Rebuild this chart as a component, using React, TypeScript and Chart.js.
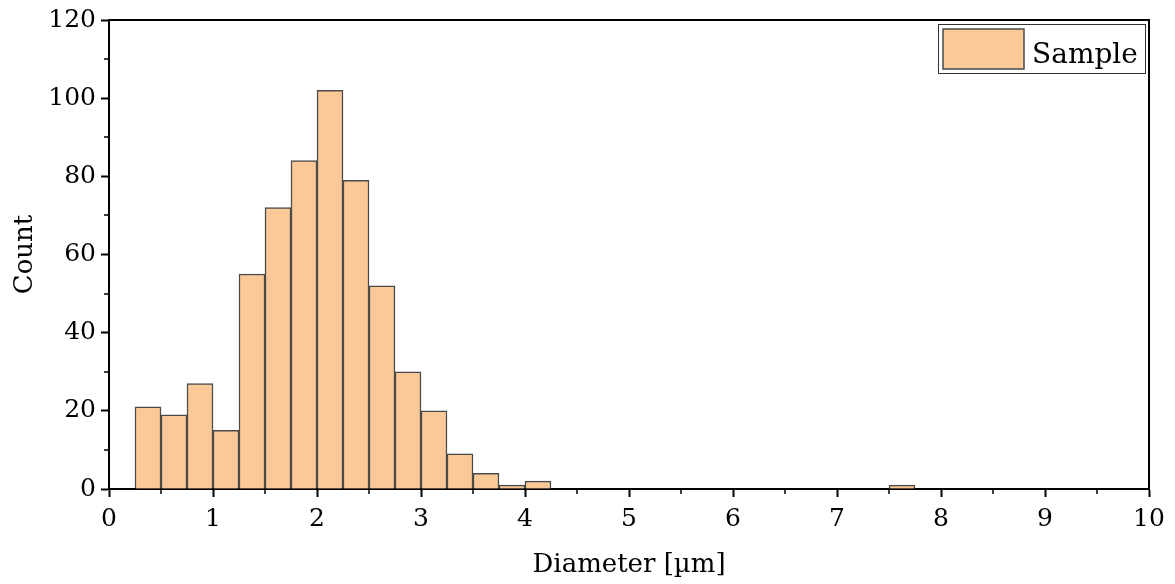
import React, { useEffect, useRef } from "react";
import { Chart, registerables } from "chart.js";

Chart.register(...registerables);

const binCenters = [0.375, 0.625, 0.875, 1.125, 1.375, 1.625, 1.875, 2.125, 2.375, 2.625, 2.875, 3.125, 3.375, 3.625, 3.875, 4.125, 7.625];
const counts = [21, 19, 27, 15, 55, 72, 84, 102, 79, 52, 30, 20, 9, 4, 1, 2, 1];
const seriesLabel = "Sample";
const xTitle = "Diameter [µm]";
const yTitle = "Count";

const FONT = "'DejaVu Serif', serif";
const FILL = "#FBC998";
const EDGE = "#4a4a4a";

const framePlugin = {
  id: "frameAndMinor",
  afterDraw(chart: any) {
    const ctx = chart.ctx;
    const a = chart.chartArea;
    const xs = chart.scales.x;
    const ys = chart.scales.y;
    ctx.save();
    ctx.strokeStyle = "#000";
    ctx.lineWidth = 2;
    ctx.beginPath();
    ctx.moveTo(a.left, a.top);
    ctx.lineTo(a.right, a.top);
    ctx.lineTo(a.right, a.bottom);
    ctx.stroke();
    // minor ticks
    ctx.lineWidth = 1.5;
    ctx.beginPath();
    for (let v = 0.5; v < 10; v += 1) {
      const px = Math.round(xs.getPixelForValue(v));
      ctx.moveTo(px, a.bottom);
      ctx.lineTo(px, a.bottom + 5);
    }
    for (let v = 10; v < 120; v += 20) {
      const py = Math.round(ys.getPixelForValue(v));
      ctx.moveTo(a.left, py);
      ctx.lineTo(a.left - 5, py);
    }
    ctx.stroke();
    // legend
    const bx = 938, by = 24, bw = 207, bh = 49;
    ctx.fillStyle = "#fff";
    ctx.fillRect(bx, by, bw, bh);
    ctx.strokeStyle = "#333";
    ctx.lineWidth = 1;
    ctx.strokeRect(bx + 0.5, by + 0.5, bw, bh);
    ctx.fillStyle = FILL;
    ctx.fillRect(943, 29, 81, 40);
    ctx.strokeStyle = EDGE;
    ctx.lineWidth = 1.5;
    ctx.strokeRect(943, 29, 81, 40);
    ctx.fillStyle = "#000";
    ctx.font = `28px ${FONT}`;
    ctx.textBaseline = "alphabetic";
    ctx.textAlign = "left";
    ctx.fillText(seriesLabel, 1032, 63);
    ctx.restore();
  },
};

export default function App() {
  const ref = useRef<HTMLCanvasElement | null>(null);
  useEffect(() => {
    if (!ref.current) return;
    const chart = new Chart(ref.current, {
      type: "bar",
      data: {
        datasets: [
          {
            label: seriesLabel,
            data: binCenters.map((x, i) => ({ x, y: counts[i] })),
            backgroundColor: FILL,
            borderColor: EDGE,
            borderWidth: 1.5,
            barPercentage: 1,
            categoryPercentage: 1,
          },
        ],
      },
      options: {
        animation: false,
        responsive: true,
        maintainAspectRatio: false,
        layout: { padding: { left: 0, top: 20, right: 26, bottom: 0 } },
        plugins: { legend: { display: false }, tooltip: { enabled: false } },
        scales: {
          x: {
            type: "linear",
            min: 0,
            max: 10,
            offset: false,
            afterFit: (s: any) => { s.height = 95; },
            ticks: { stepSize: 1, color: "#000", font: { family: FONT, size: 25 }, padding: 7, maxRotation: 0 },
            grid: { display: true, offset: false, drawOnChartArea: false, tickLength: 8, tickColor: "#000", tickWidth: 2 },
            border: { color: "#000", width: 2 },
            title: { display: true, text: xTitle, color: "#000", font: { family: FONT, size: 26 }, padding: { top: 4, bottom: 3 } },
          },
          y: {
            min: 0,
            max: 120,
            afterFit: (s: any) => { s.width = 109; },
            ticks: { stepSize: 20, color: "#000", font: { family: FONT, size: 25 }, padding: 5 },
            grid: { display: true, offset: false, drawOnChartArea: false, tickLength: 8, tickColor: "#000", tickWidth: 2 },
            border: { color: "#000", width: 2 },
            title: { display: true, text: yTitle, color: "#000", font: { family: FONT, size: 26 }, padding: { top: 10, bottom: 0 } },
          },
        },
      },
      plugins: [framePlugin],
    });
    return () => chart.destroy();
  }, []);
  return (
    <div style={{ position: "fixed", left: 0, top: 0, width: 1175, height: 584, background: "#fff" }}>
      <canvas ref={ref} />
    </div>
  );
}
